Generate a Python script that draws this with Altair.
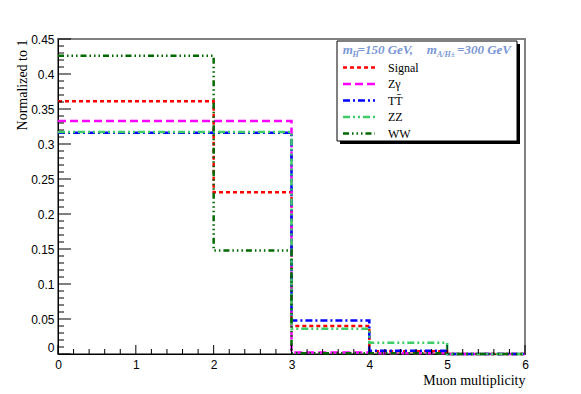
import altair as alt
import pandas as pd

# ---------------- data ----------------
bin_edges = [0, 1, 2, 3, 4, 5, 6]
series_names = ["Signal", "Zγ", "TT\u0304", "ZZ", "WW"]
signal = [0.361, 0.361, 0.231, 0.040, 0.004, 0.0]
zgamma = [0.333, 0.333, 0.333, 0.002, 0.001, 0.0]
ttbar = [0.316, 0.316, 0.316, 0.048, 0.0045, 0.0]
zz = [0.317, 0.317, 0.317, 0.036, 0.016, 0.0]
ww = [0.426, 0.426, 0.148, 0.001, 0.001, 0.0]
values = [signal, zgamma, ttbar, zz, ww]

colors = ["#ff0000", "#ff00ff", "#0000ff", "#3dcc66", "#006a00"]
dashes = [[4, 3], [8, 4], [7, 3, 2, 3], [7, 3, 2, 3, 2, 3],
          [6, 3, 1.5, 3, 1.5, 3, 1.5, 3]]

x_ticks = [0, 1, 2, 3, 4, 5, 6]
y_ticks = [0, 0.05, 0.1, 0.15, 0.2, 0.25, 0.3, 0.35, 0.4, 0.45]

W, H = 467, 315
xscale = alt.Scale(domain=[0, 6], nice=False, zero=False)
yscale = alt.Scale(domain=[0, 0.45], nice=False)

ax_x = alt.Axis(
    values=x_ticks, format="d", ticks=False, grid=False, labelFlush=False,
    domainColor="black", domainWidth=1,
    labelFont="Liberation Sans", labelFontSize=12, labelColor="black",
    labelPadding=5,
    title="Muon multiplicity", titleFont="Liberation Serif",
    titleFontWeight="normal", titleFontSize=14, titleColor="black",
    titleAnchor="end", titleAlign="right", titleBaseline="middle",
    titleX=W, titleY=26)
ax_y = alt.Axis(
    values=y_ticks, format="~g", ticks=False, grid=False, labelFlush=False,
    domainColor="black", domainWidth=1,
    labelFont="Liberation Sans", labelFontSize=12, labelColor="black",
    labelPadding=4,
    labelBaseline={"condition": {"test": "datum.value == 0", "value": "bottom"},
                   "value": "middle"},
    title="Normalized to 1", titleFont="Liberation Serif",
    titleFontWeight="normal", titleFontSize=14, titleColor="black",
    titleAnchor="end", titleAlign="right", titleBaseline="middle",
    titleAngle=270, titleX=-36, titleY=0)

layers = []

# histogram step lines
for i, (name, vals) in enumerate(zip(series_names, values)):
    df = pd.DataFrame({"x": bin_edges, "y": vals + [vals[-1]]})
    layers.append(
        alt.Chart(df).mark_line(interpolate="step-after", color=colors[i],
                                strokeDash=dashes[i], strokeWidth=2.5,
                                strokeCap="butt", clip=False)
        .encode(x=alt.X("x:Q", scale=xscale, axis=ax_x, title="Muon multiplicity"),
                y=alt.Y("y:Q", scale=yscale, axis=ax_y, title="Normalized to 1"))
    )

# inward ticks (ROOT style)
y_major = pd.DataFrame({"v": y_ticks})
y_minor = pd.DataFrame({"v": [round(k * 0.01, 2) for k in range(46) if k % 5 != 0]})
x_major = pd.DataFrame({"v": x_ticks})
x_minor = pd.DataFrame({"v": [round(k * 0.2, 1) for k in range(31) if k % 5 != 0]})

Yt = lambda: alt.Y("v:Q", scale=yscale, axis=ax_y, title="Normalized to 1")
Xt = lambda: alt.X("v:Q", scale=xscale, axis=ax_x, title="Muon multiplicity")

layers.append(alt.Chart(y_major).mark_rule(color="black", strokeWidth=1).encode(
    y=Yt(), x=alt.value(0), x2=alt.value(13)))
layers.append(alt.Chart(y_minor).mark_rule(color="black", strokeWidth=1).encode(
    y=Yt(), x=alt.value(0), x2=alt.value(6)))
layers.append(alt.Chart(x_major).mark_rule(color="black", strokeWidth=1).encode(
    x=Xt(), y=alt.value(H), y2=alt.value(H - 9)))
layers.append(alt.Chart(x_minor).mark_rule(color="black", strokeWidth=1).encode(
    x=Xt(), y=alt.value(H), y2=alt.value(H - 5)))

# legend box
one = pd.DataFrame({"a": [0]})
layers.append(alt.Chart(one).mark_rect(fill="black").encode(
    x=alt.value(282), x2=alt.value(462), y=alt.value(5), y2=alt.value(105)))
layers.append(alt.Chart(one).mark_rect(fill="white", stroke="black", strokeWidth=1).encode(
    x=alt.value(279), x2=alt.value(459), y=alt.value(2), y2=alt.value(102)))

hdr_color = "#7b97d6"
hdr = [("m", 284.7, 15, 13), ("H", 294.5, 18, 8), ("=150 GeV,", 299.5, 15, 13),
       ("m", 368.7, 15, 13), ("A/H\u00b1", 379, 18, 8), ("=300 GeV", 399, 15, 13)]
for txt, hx, hy, fs in hdr:
    layers.append(alt.Chart(one).mark_text(
        font="Liberation Serif", fontStyle="italic", fontWeight="bold",
        fontSize=fs, color=hdr_color, align="left", baseline="alphabetic").encode(
        x=alt.value(hx), y=alt.value(hy), text=alt.value(txt)))

for i, name in enumerate(series_names):
    ry = 28.5 + 16.5 * i
    layers.append(alt.Chart(one).mark_rule(color=colors[i], strokeDash=dashes[i],
                                           strokeWidth=2.5, strokeCap="butt").encode(
        x=alt.value(285), x2=alt.value(317), y=alt.value(ry)))
    layers.append(alt.Chart(one).mark_text(
        font="Liberation Serif", fontSize=12, color="black", align="left",
        baseline="middle").encode(
        x=alt.value(330), y=alt.value(ry), text=alt.value(name)))

chart = alt.layer(*layers).properties(
    width=W, height=H,
    padding={"left": 50, "top": 31, "right": 48, "bottom": 40},
    autosize=alt.AutoSizeParams(type="none"),
    background="white",
).configure_view(stroke="#808080", strokeWidth=2)

chart.save("out.html", embed_options={"renderer": "svg", "actions": False})
